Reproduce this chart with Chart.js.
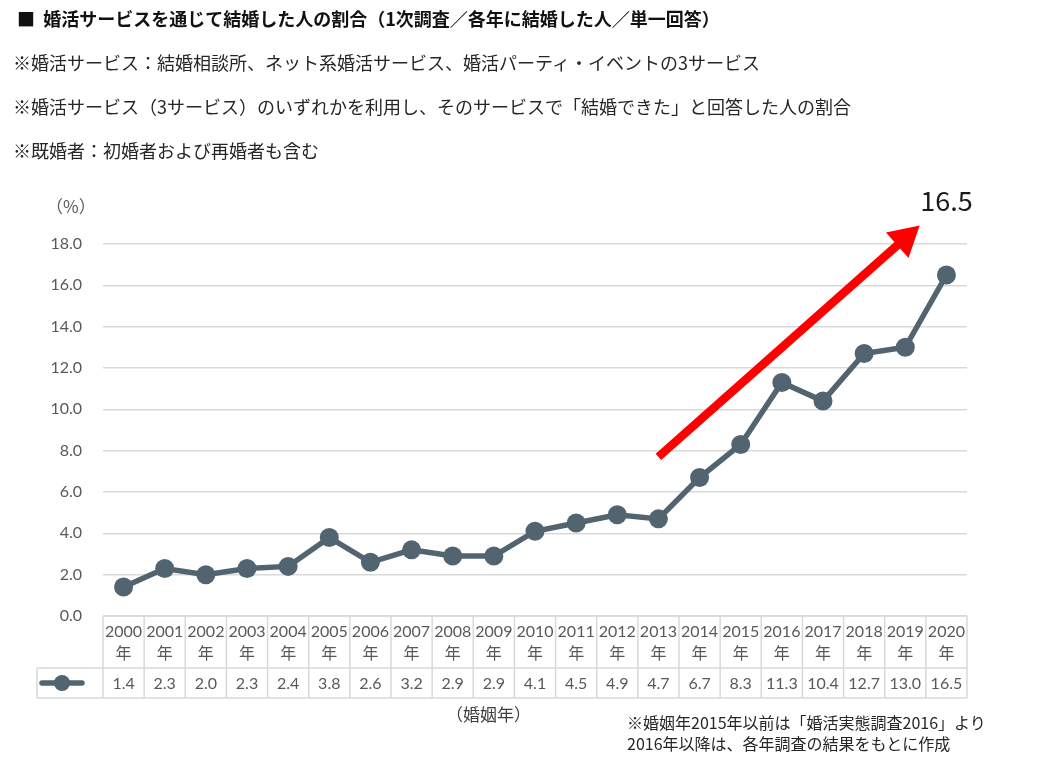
<!DOCTYPE html>
<html><head><meta charset="utf-8">
<script src="https://cdn.jsdelivr.net/npm/chart.js@4/dist/chart.umd.min.js"></script>
<style>
html,body{margin:0;padding:0;background:#fff;}
body{width:1057px;height:760px;position:relative;overflow:hidden;font-family:"Noto Sans CJK JP","Noto Sans",sans-serif;}
#wrap{position:absolute;left:0;top:0;width:1057px;height:760px;}
.t{position:absolute;white-space:nowrap;color:#262626;line-height:1;}
</style></head><body>
<div id="wrap"><canvas id="c" width="1057" height="760"></canvas></div>
<div class="t" style="left:17px;top:9px;font-size:18px;font-weight:bold;color:#111">■&nbsp; 婚活サービスを通じて結婚した人の割合（1次調査／各年に結婚した人／単一回答）</div>
<div class="t" style="left:13px;top:53px;font-size:18px;">※婚活サービス：結婚相談所、ネット系婚活サービス、婚活パーティ・イベントの3サービス</div>
<div class="t" style="left:13px;top:97px;font-size:18px;">※婚活サービス（3サービス）のいずれかを利用し、そのサービスで「結婚できた」と回答した人の割合</div>
<div class="t" style="left:13px;top:141px;font-size:18px;">※既婚者：初婚者および再婚者も含む</div>
<div class="t" style="left:46px;top:197px;font-size:17px;color:#595959;">（%）</div>
<div class="t" style="left:446px;top:705px;font-size:17px;color:#404040;">（婚姻年）</div>
<div class="t" style="left:627px;top:712px;font-size:16px;color:#262626;line-height:21px;">※婚姻年2015年以前は「婚活実態調査2016」より<br>2016年以降は、各年調査の結果をもとに作成</div>
<script>
const years = ["2000","2001","2002","2003","2004","2005","2006","2007","2008","2009","2010","2011","2012","2013","2014","2015","2016","2017","2018","2019","2020"];
const yearSuffix = "年";
const rates = [1.4,2.3,2.0,2.3,2.4,3.8,2.6,3.2,2.9,2.9,4.1,4.5,4.9,4.7,6.7,8.3,11.3,10.4,12.7,13.0,16.5];
const rateLabels = ["1.4","2.3","2.0","2.3","2.4","3.8","2.6","3.2","2.9","2.9","4.1","4.5","4.9","4.7","6.7","8.3","11.3","10.4","12.7","13.0","16.5"];
const highlightLabel = "16.5";
const arrowFrom = {i:13, v:7.7};
const arrowTo = {i:19.35, v:18.9};

const LINE = "#526470";
const GRID = "#d9d9d9";
const TXT = "#595959";
const NUMFONT = "Lato, 'Noto Sans CJK JP', sans-serif";

const tablePlugin = {
  id:'tablePlugin',
  afterDraw(chart){
    const ctx = chart.ctx, xs = chart.scales.x, ys = chart.scales.y;
    const ca = chart.chartArea;
    const colW = xs.getPixelForValue(1) - xs.getPixelForValue(0);
    const top = ca.bottom, mid = top + 52, bot = mid + 30;
    const legL = 37;
    ctx.save();
    ctx.strokeStyle = GRID; ctx.lineWidth = 1.5;
    ctx.beginPath();
    ctx.moveTo(ca.left, top); ctx.lineTo(ca.right, top);
    ctx.moveTo(legL, mid); ctx.lineTo(ca.right, mid);
    ctx.moveTo(legL, bot); ctx.lineTo(ca.right, bot);
    ctx.moveTo(legL, mid); ctx.lineTo(legL, bot);
    for (let i=0;i<=years.length;i++){
      const x = ca.left + i*colW;
      ctx.moveTo(x, top); ctx.lineTo(x, bot);
    }
    ctx.stroke();
    ctx.fillStyle = TXT; ctx.textAlign='center'; ctx.textBaseline='middle';
    years.forEach((y,i)=>{
      const cx = xs.getPixelForValue(i);
      ctx.font = "16px " + NUMFONT;
      ctx.fillText(y, cx, top+16);
      ctx.font = "16px 'Noto Sans CJK JP', sans-serif";
      ctx.fillText(yearSuffix, cx, top+37);
      ctx.font = "16px " + NUMFONT;
      ctx.fillText(rateLabels[i], cx, mid+15.5);
    });
    // legend symbol
    ctx.strokeStyle = LINE; ctx.lineWidth = 5.5; ctx.lineCap='round';
    ctx.beginPath(); ctx.moveTo(42, mid+15); ctx.lineTo(82, mid+15); ctx.stroke();
    ctx.fillStyle = LINE; ctx.beginPath(); ctx.arc(62, mid+15, 8, 0, Math.PI*2); ctx.fill();
    // red arrow
    const x1 = xs.getPixelForValue(arrowFrom.i), y1 = ys.getPixelForValue(arrowFrom.v);
    const x2 = xs.getPixelForValue(arrowTo.i), y2 = ys.getPixelForValue(arrowTo.v);
    const ang = Math.atan2(y2-y1, x2-x1);
    const headLen = 30, headW = 17;
    const bx = x2 - headLen*Math.cos(ang), by = y2 - headLen*Math.sin(ang);
    ctx.strokeStyle = "#ff0000"; ctx.lineWidth = 8.5; ctx.lineCap='butt';
    ctx.beginPath(); ctx.moveTo(x1,y1); ctx.lineTo(bx+2*Math.cos(ang), by+2*Math.sin(ang)); ctx.stroke();
    ctx.fillStyle = "#ff0000";
    ctx.beginPath();
    ctx.moveTo(x2,y2);
    ctx.lineTo(bx + headW*Math.sin(ang), by - headW*Math.cos(ang));
    ctx.lineTo(bx - headW*Math.sin(ang), by + headW*Math.cos(ang));
    ctx.closePath(); ctx.fill();
    // highlight label
    ctx.fillStyle = "#1a1a1a"; ctx.font = "27px 'Noto Sans CJK JP', sans-serif";
    ctx.textAlign='center'; ctx.textBaseline='middle';
    ctx.fillText(highlightLabel, xs.getPixelForValue(years.length-1), ys.getPixelForValue(20.1));
    ctx.restore();
  }
};

new Chart(document.getElementById('c'), {
  type:'line',
  data:{ labels: years, datasets:[{ data: rates, borderColor: LINE, backgroundColor: LINE,
    borderWidth: 5.5, pointRadius: 9.5, pointHoverRadius: 9.5, pointBackgroundColor: LINE, pointBorderWidth:0, tension:0 }]},
  options:{
    responsive:false, animation:false,
    layout:{ padding:{ left:0, right:90, top:244, bottom:144 } },
    plugins:{ legend:{display:false}, tooltip:{enabled:false} },
    scales:{
      x:{ display:false, offset:true },
      y:{ min:0, max:18,
        afterFit(s){ s.width = 103; },
        ticks:{ stepSize:2, padding:21, color:TXT, font:{ family:NUMFONT, size:16 }, callback:v=>v.toFixed(1) },
        grid:{ color:GRID, lineWidth:1.5, drawTicks:false },
        border:{ display:false }
      }
    }
  },
  plugins:[tablePlugin]
});
</script>
</body></html>
